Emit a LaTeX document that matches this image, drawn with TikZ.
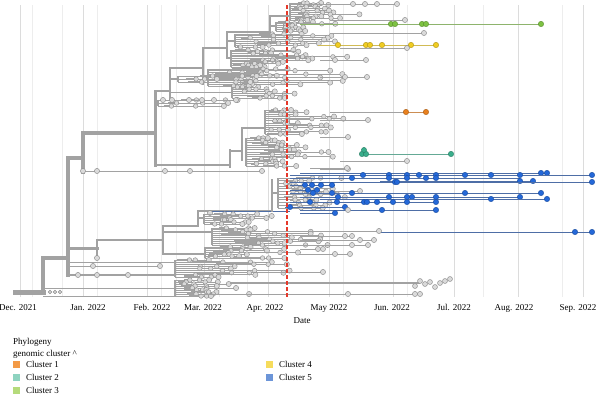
\documentclass[tikz,border=0pt]{standalone}
\usepackage{fontspec}
\setmainfont{Liberation Serif}
\definecolor{treeg}{HTML}{A2A2A2}
\definecolor{tipf}{HTML}{DADADA}
\definecolor{tipd}{HTML}{8C8C8C}
\definecolor{gridc}{HTML}{DCDCDC}
\definecolor{gridl}{HTML}{EDEDED}
\definecolor{redl}{HTML}{E5392B}
\definecolor{orn}{HTML}{E8801E}
\definecolor{orl}{HTML}{F39A46}
\definecolor{tln}{HTML}{3AAE8C}
\definecolor{tll}{HTML}{8ED3C0}
\definecolor{grn}{HTML}{7DC242}
\definecolor{grl}{HTML}{B5DB7B}
\definecolor{yln}{HTML}{F0CC22}
\definecolor{yll}{HTML}{F6DC5C}
\definecolor{bln}{HTML}{2468D8}
\definecolor{bll}{HTML}{6C95D8}
\definecolor{blline}{HTML}{4E6EA6}
\tikzset{
  gridmaj/.style={draw=gridc,line width=0.8},
  gridmin/.style={draw=gridl,line width=0.6},
  bb/.style={draw=treeg,line cap=rect},
  brv/.style={draw=treeg,line width=1.6},
  brk/.style={draw=treeg,line width=1.7},
  brt/.style={draw=treeg,line width=1.0},
  tipg/.style={fill=tipf,draw=tipd,line width=0.45},
  tipc/.style={fill=#1,draw=#1!75!black,line width=0.45},
  lab/.style={font=\fontsize{9}{10.5}\selectfont,inner sep=0pt},
}
\newcommand\tcomb[6]{%
  \draw[brv] (#1,#2) -- (#1,#3);
  \pgfmathsetmacro\cstep{(#3-#2)/(#4-1)}%
  \foreach \i in {1,...,#4}{%
    \pgfmathsetmacro\yy{#2+(\i-1)*\cstep}%
    \pgfmathsetmacro\xe{#5+rnd*(#6-#5)}%
    \pgfmathsetmacro\xs{#1+(0.05+0.35*rnd)*(\xe-#1)}%
    \pgfmathsetmacro\xi{\xs+(0.1+0.3*rnd)*(\xe-#1)}%
    \pgfmathsetmacro\xm{\xi+(0.2+0.6*rnd)*(\xe-\xi)}%
    \draw[brt] (#1,\yy) -- (\xe,\yy);
    \draw[brk] (\xs,\yy) -- (\xi,\yy);
    \filldraw[tipg] (\xi,\yy) circle (2.3);
    \filldraw[tipg] (\xm,\yy) circle (2.3);
    \filldraw[tipg] (\xe,\yy) circle (2.6);
  }%
}
\newcommand\grow[4]{%
  \draw[brt] (#2,#1) -- (#3,#1);
  \foreach \t in {#4}{\filldraw[tipg] (\t,#1) circle (2.6);}%
}
\newcommand\crow[6]{% y, x1, x2, nodes, line colour, node colour
  \draw[draw=#5,line width=0.9] (#2,#1) -- (#3,#1);
  \foreach \t in {#4}{\filldraw[tipc=#6] (\t,#1) circle (2.7);}%
}
\begin{document}
\begin{tikzpicture}[x=1pt,y=-1pt]
\pgfmathsetseed{4242}
\path[use as bounding box,fill=white] (0,0) rectangle (600,397);
% grid
\foreach \gx in {32,62,97,161,176,219,247,343,407,483,562}{\draw[gridmin] (\gx,5) -- (\gx,297);}
\foreach \gx in {20,83,147,204,268,329,393,454,518,583}{\draw[gridmaj] (\gx,5) -- (\gx,297);}
% ---------- backbone ----------
\draw[bb,line width=5] (15,292) -- (43,292);
\draw[bb,line width=4.5] (43,292) -- (43,258) -- (68,258);
\draw[bb,line width=3.8] (68,158) -- (68,275);
\draw[bb,line width=3.2] (68,158) -- (83,158);
\draw[bb,line width=3.2] (83,133) -- (83,172);
\draw[bb,line width=3.2] (83,133) -- (155,133);
\draw[bb,line width=3] (155,91) -- (155,165);
\draw[bb,line width=2.8] (155,91) -- (170,91);
\draw[bb,line width=2.6] (170,68) -- (170,100);
\draw[bb,line width=2.6] (170,68) -- (203,68);
\draw[bb,line width=2.6] (203,48) -- (203,84);
\draw[bb,line width=2.6] (203,48) -- (227,48);
\draw[bb,line width=2.4] (227,32) -- (227,58);
\draw[bb,line width=2.4] (227,32) -- (270,32);
\draw[bb,line width=2.2] (270,16) -- (270,34);
\draw[bb,line width=2.2] (270,16) -- (290,16);
% ---------- top clade ----------
\tcomb{290}{3}{20}{10}{302}{367}
\grow{4}{300}{397}{353,365,377,397}
\draw[brv] (270,26) -- (276,26);
\tcomb{276}{22}{31}{6}{288}{340}
\crow{24}{300}{541}{391,395,422,426,541}{grn!55!treeg}{grn}
\grow{20}{330}{405}{405}
\draw[brv] (227,41) -- (235,41);
\tcomb{235}{34}{47}{8}{258}{335}
\grow{33}{330}{424}{424}
\crow{45}{318}{436}{338,366,370,382,411,436}{yln!60!treeg}{yln}
\grow{48}{340}{407}{407}
\draw[brv] (227,58) -- (231,58);
\tcomb{231}{50}{67}{11}{248}{348}
\grow{60}{320}{366}{335,366}
\draw[brv] (203,77) -- (208,77);
\tcomb{208}{69}{86}{11}{225}{350}
\grow{77}{320}{367}{345,367}
\draw[brv] (170,79) -- (178,79);
\tcomb{178}{76}{82}{3}{186}{262}
\draw[brt] (170,92) -- (232,92);
\tcomb{232}{87}{98}{6}{256}{300}
\draw[brv] (155,102) -- (158,102);
\tcomb{158}{100}{106}{3}{205}{238}
\grow{100}{160}{236}{163,172,189,202,214,236}
% ---------- middle-upper clade ----------
\draw[bb,line width=2] (155,165) -- (230,165);
\draw[bb,line width=2.2] (230,150) -- (230,167);
\draw[bb,line width=2.2] (230,151) -- (242,151);
\draw[bb,line width=2] (242,128) -- (242,160);
\draw[bb,line width=1.8] (242,128) -- (265,128);
\tcomb{265}{110}{134}{12}{285}{348}
\grow{112}{330}{406}{}
\crow{112}{406}{426}{406,426}{orn!60!treeg}{orn}
\grow{120}{320}{368}{368}
\grow{137}{320}{348}{348}
\tcomb{246}{138}{166}{13}{262}{335}
\grow{161}{340}{407}{407}
\grow{169}{320}{348}{348}
\crow{154}{366}{451}{362,366,451}{tln!60!treeg}{tln}
\filldraw[tipc=tln] (364,150) circle (2.6);
\grow{171}{83}{265}{83,97,165,190,262}
% ---------- blue clade ----------
\draw[bb,line width=3] (97,248) -- (68,248);
\draw[bb,line width=2.8] (97,240) -- (97,258);
\filldraw[tipg] (97,258) circle (2.6);
\draw[bb,line width=2.8] (97,240) -- (163,240);
\draw[bb,line width=2.6] (163,226) -- (163,254);
\draw[bb,line width=2.6] (163,226) -- (198,226);
\draw[bb,line width=2.6] (198,211) -- (198,226);
\draw[bb,line width=2.6] (198,211) -- (272,211);
\draw[blline,line width=0.8] (212,211) -- (290,211);
\filldraw[tipg] (210,213) circle (2.6);
\draw[bb,line width=2] (272,180) -- (272,211);
\draw[brv] (272,193) -- (278,193);
\tcomb{278}{178}{208}{12}{290}{345}
\grow{191}{330}{360}{360}
\grow{168}{310}{347}{347}
\crow{173}{300}{547}{541,547}{blline}{bln}
\crow{175}{290}{592}{363,389,407,419,436,465,491,520,592}{blline}{bln}
\crow{178}{290}{520}{352,389,407,426,436}{blline}{bln}
\crow{181}{380}{533}{520,533}{blline}{bln}
\crow{182}{290}{592}{395,397,592}{blline}{bln}
\crow{185}{290}{335}{305,312,321,332}{blline}{bln}
\crow{190}{290}{320}{308,317}{blline}{bln}
\crow{193}{290}{541}{313,332,352,465,541}{blline}{bln}
\crow{197}{300}{520}{338,389,407,412,436,520}{blline}{bln}
\crow{199}{320}{547}{491,547}{blline}{bln}
\crow{202}{290}{436}{310,337,364,367,377,393,407,436}{blline}{bln}
\crow{207}{285}{348}{290,345}{blline}{bln}
\crow{210}{300}{436}{382,436}{blline}{bln}
\filldraw[tipg] (348,210) circle (2.6);
\crow{213}{300}{335}{335}{blline}{bln}
\crow{232}{380}{592}{575,592}{blline}{bln}
% ---------- lower clades ----------
\draw[brv] (198,218) -- (204,218);
\tcomb{204}{214}{224}{6}{222}{285}
\draw[brv] (163,232) -- (212,232);
\tcomb{212}{228}{245}{10}{250}{330}
\grow{231}{300}{379}{379}
\grow{236}{300}{352}{345,352}
\grow{240}{300}{374}{360,374}
\grow{245}{300}{368}{352,368}
\draw[brv] (163,254) -- (205,254);
\tcomb{205}{247}{258}{7}{235}{300}
\grow{249}{300}{323}{318,323}
\grow{254}{300}{350}{335,350}
% ---------- bottom clades ----------
\grow{262}{68}{190}{}
\grow{266}{68}{160}{93,160}
\draw[bb,line width=2] (68,275) -- (175,275);
\foreach \t in {78,97,128}{\filldraw[tipg] (\t,275) circle (2.6);}
\tcomb{175}{260}{277}{9}{200}{290}
\grow{272}{280}{323}{323}
\draw[brt] (43,288) -- (175,288);
\draw[brt] (43,296) -- (175,296);
\foreach \t in {50,55,60}{\filldraw[tipg] (\t,292) circle (1.8);}
\tcomb{175}{280}{296}{9}{205}{255}
\draw[treeg,line width=1.8] (230,283) -- (420,283);
\foreach \t/\u in {415/286,420/281,425/284,430/282,435/287,440/283,445/281,450/279}{\filldraw[tipg] (\t,\u) circle (2.5);}
\grow{294}{200}{420}{348,415,420}
% ---------- red dashed line ----------
\draw[redl,line width=1.4,dash pattern=on 4pt off 2pt] (287,5) -- (287,297);
% ---------- axis labels ----------
\foreach \lx/\lt in {18/{Dec. 2021},88/{Jan. 2022},152/{Feb. 2022},203/{Mar. 2022},265/{Apr. 2022},329/{May 2022},392/{Jun. 2022},454/{Jul. 2022},514/{Aug. 2022},578/{Sep. 2022}}{\node[lab,anchor=base] (m\lx) at (\lx,310) {\lt};}
\node[lab,anchor=base] (datelab) at (302,323) {Date};
% ---------- legend ----------
\node[lab,anchor=base west] (lg1) at (13,344) {Phylogeny};
\node[lab,anchor=base west] (lg2) at (13,356) {genomic cluster \textasciicircum};
\fill[orl] (12.5,361) rectangle (19.5,368);
\node[lab,anchor=base west] (c1) at (26,367.5) {Cluster 1};
\fill[tll] (12.5,374) rectangle (19.5,381);
\node[lab,anchor=base west] (c2) at (26,380.5) {Cluster 2};
\fill[grl] (12.5,387) rectangle (19.5,394);
\node[lab,anchor=base west] (c3) at (26,393.5) {Cluster 3};
\fill[yll] (265.5,361) rectangle (272.5,368);
\node[lab,anchor=base west] (c4) at (279,367.5) {Cluster 4};
\fill[bll] (265.5,374) rectangle (272.5,381);
\node[lab,anchor=base west] (c5) at (279,380.5) {Cluster 5};
\end{tikzpicture}
\end{document}
